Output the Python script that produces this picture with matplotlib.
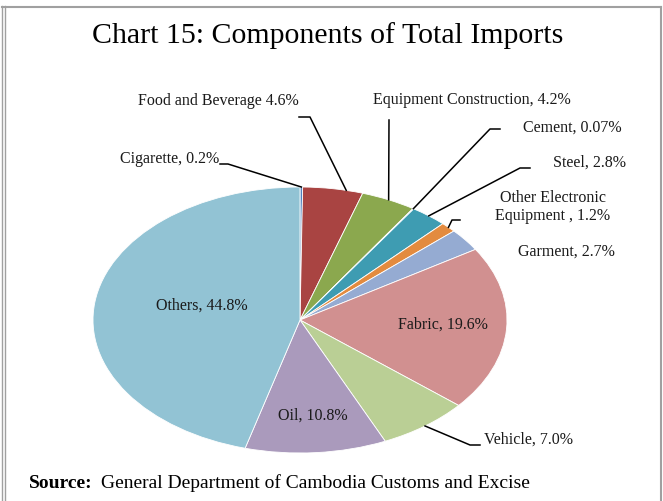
import numpy as np
import matplotlib.pyplot as plt

plt.rcParams['font.family'] = ['Liberation Serif', 'DejaVu Serif']

# data (clockwise from 12 o'clock)
categories = ['Cigarette', 'Food and Beverage', 'Equipment Construction', 'Cement',
              'Steel', 'Other Electronic Equipment', 'Garment', 'Fabric',
              'Vehicle', 'Oil', 'Others']
shares = [0.2, 4.6, 4.2, 0.07, 2.8, 1.2, 2.7, 19.6, 7.0, 10.8, 44.8]
label_texts = ['Cigarette, 0.2%', 'Food and Beverage 4.6%', 'Equipment Construction, 4.2%',
               'Cement, 0.07%', 'Steel, 2.8%', 'Other Electronic\nEquipment , 1.2%',
               'Garment, 2.7%', 'Fabric, 19.6%', 'Vehicle, 7.0%', 'Oil, 10.8%',
               'Others, 44.8%']
colors = ['#4F81BD', '#A94442', '#8BA84E', '#8064A2', '#3E9CB2', '#E38B3F',
          '#95ABD2', '#D19090', '#BACF95', '#AA9ABC', '#92C3D4']

# label placement in pixel coords (x, y, ha) and leader elbows
label_pos = [(219, 159, 'right'), (299, 101, 'right'), (373, 100, 'left'),
             (523, 128, 'left'), (553, 163, 'left'), (553, 207, 'center'),
             (518, 252, 'left'), (443, 325, 'center'), (484, 440, 'left'),
             (313, 416, 'center'), (202, 306, 'center')]
leaders = {0: [(220, 164), (228, 164)],
           1: [(299, 117), (310, 117)],
           2: [(389, 120)],
           3: [(500, 129), (490, 129)],
           4: [(530, 168), (520, 168)],
           5: [(460, 220), (452, 220)],
           8: [(480, 445), (470, 445)]}
# where along the wedge the leader meets the rim (0 = start, 1 = end)
leader_frac = {1: 0.72}

W, H = 663, 501
fig = plt.figure(figsize=(W / 100, H / 100), dpi=100)

# elliptical pie: its own axes with non-equal aspect
cx, cy, rx, ry = 300, 320, 207, 133
pax = fig.add_axes([(cx - rx) / W, (H - cy - ry) / H, 2 * rx / W, 2 * ry / H])
wedges, _ = pax.pie(shares, colors=colors, startangle=90, counterclock=False,
                    wedgeprops=dict(edgecolor='white', linewidth=0.6))
pax.set_aspect('auto')
pax.set_xlim(-1, 1)
pax.set_ylim(-1, 1)
pax.axis('off')

# overlay axes in pixel coordinates for text, leaders and frame
ax = fig.add_axes([0, 0, 1, 1])
ax.set_xlim(0, W)
ax.set_ylim(H, 0)
ax.axis('off')
ax.set_zorder(3)


def anchor(i):
    w = wedges[i]
    f = leader_frac.get(i, 0.5)
    # wedges run clockwise, so theta2 is the start of the slice
    ang = np.deg2rad(w.theta2 + f * (w.theta1 - w.theta2))
    disp = pax.transData.transform((np.cos(ang), np.sin(ang)))
    return ax.transData.inverted().transform(disp)


for i, (x, y, ha) in enumerate(label_pos):
    ax.text(x, y, label_texts[i], ha=ha, va='center', multialignment='center',
            fontsize=11.5, color='#1a1a1a', zorder=5)

for i, pts in leaders.items():
    path = np.array(pts + [tuple(anchor(i))])
    ax.plot(path[:, 0], path[:, 1], color='black', lw=1.1, zorder=4)

ax.text(328, 36, 'Chart 15: Components of Total Imports', ha='center', va='center',
        fontsize=21.5, color='black')
src = ax.text(29, 483, 'Source:', ha='left', va='center', fontsize=14, fontweight='bold')
ax.annotate('General Department of Cambodia Customs and Excise', xy=(1, 0.5),
            xycoords=src, xytext=(6, 0), textcoords='offset points',
            ha='left', va='center', fontsize=14)

# frame around the picture
for x in (1.5, 4.5):
    ax.plot([x, x], [6, H], color='#A0A0A0', lw=1)
ax.plot([1.5, 661], [6.5, 6.5], color='#A0A0A0', lw=1.5)
ax.plot([661, 661], [6.5, H], color='#A0A0A0', lw=1.5)

fig.savefig('out.png', dpi=100)
